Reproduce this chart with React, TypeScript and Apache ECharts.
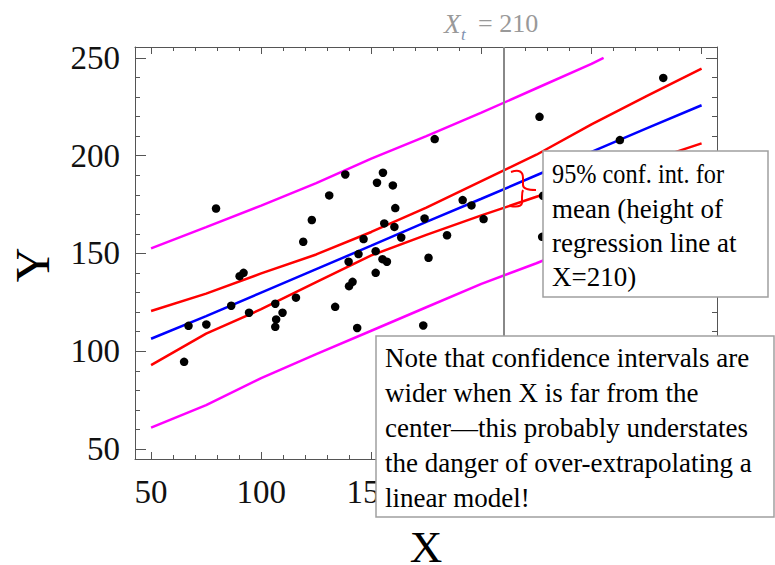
import React, { useEffect, useRef } from "react";
import * as echarts from "echarts";

// ---- data ----
const pointX = [65, 67, 75.1, 79.5, 86.4, 90.2, 92, 94.5, 106.4, 106.8, 106.4, 109.7, 115.8, 119.1, 123, 130.9, 133.6, 138.2, 139.7, 139.9, 141.5, 143.6, 144.2, 146.5, 152, 152, 152.6, 155.1, 155.3, 155.9, 157.1, 159.8, 160.5, 160.9, 163.6, 173.6, 174.2, 176, 178.8, 184.4, 191.5, 195.5, 201, 226.4, 227.6, 228, 262.9, 282.6];
const pointY = [94.6, 113, 113.7, 173, 123.3, 138.4, 140.1, 119.7, 124.3, 116.3, 112.5, 119.7, 127.4, 156, 167.1, 179.7, 122.7, 190.4, 145.8, 133.3, 135.5, 111.9, 149.7, 157.4, 140.1, 151.2, 186.2, 147.1, 191.3, 165.4, 145.8, 184.8, 163.6, 173.2, 158.2, 113.2, 167.9, 147.8, 208.5, 159.3, 177.3, 174.6, 167.6, 219.9, 158.5, 179.5, 208, 239.8];

const curveX = [50, 75, 100, 125, 150, 175, 200, 225, 250, 275, 300];
const fitY = [106.4, 118, 130, 142, 154, 166.2, 178, 190, 202, 214, 225.8];
const confUpperY = [120.6, 129.5, 139.8, 149.5, 161, 173.5, 187, 200.5, 216, 230.5, 244.6];
const confLowerY = [92.9, 109, 121.5, 135.4, 149, 159.5, 169.5, 179, 188, 197, 206.3];
const predUpperX = [50, 75, 100, 125, 150, 175, 200, 225, 250, 255.5];
const predUpperY = [152.6, 163.5, 174.5, 186, 198.5, 210, 222, 234.5, 247, 250];
const predLowerY = [60.9, 72.5, 86.3, 98.5, 110.5, 122.5, 134.5, 145, 156.5, 168, 179.5];

const XT = 210;
const X_MIN = 42.7;
const X_MAX = 307;
const Y_MIN = 44.9;
const Y_MAX = 255.6;
const xMajor = [50, 100, 150, 200, 250, 300];
const xLabels = [50, 100, 150]; // 200, 250, 300 sit under the note box
const xMinor = [50, 60, 70, 80, 90, 100, 110, 120, 130, 140, 150, 160, 170, 180, 190, 200, 210, 220, 230, 240, 250, 260, 270, 280, 290, 300];
const yMajor = [50, 100, 150, 200, 250];
const yMinor = [50, 60, 70, 80, 90, 100, 110, 120, 130, 140, 150, 160, 170, 180, 190, 200, 210, 220, 230, 240, 250];

const box1Lines = ["95% conf. int. for", "mean (height of", "regression line at", "X=210)"];
const box2Lines = [
  "Note that confidence intervals are",
  "wider when X is far from the",
  "center\u2014this probably understates",
  "the danger of over-extrapolating a",
  "linear model!",
];

const SERIF = "'Liberation Serif', 'Times New Roman', serif";
const FRAME = "#555";

function pairs(xs: number[], ys: number[]) {
  return xs.map((x, i) => [x, ys[i]]);
}

echarts.graphic.registerShape(
  "brace",
  echarts.graphic.extendPath(
    "M511,172 Q523,168 523,178 L523,185 Q523,190 536,190 M523,190 Q522,192 522,197 L522,203 Q521,208 510,206",
    {}
  )
);

function xAxisDef(position: string, ticks: number[], len: number, labels: boolean, line: boolean) {
  return {
    type: "value",
    min: X_MIN,
    max: X_MAX,
    position,
    axisLine: { show: line, onZero: false, lineStyle: { color: FRAME, width: 1 } },
    axisTick: { show: true, inside: true, length: len, customValues: ticks, lineStyle: { color: FRAME, width: 1 } },
    axisLabel: labels
      ? { show: true, customValues: xLabels, margin: 16, fontSize: 33, color: "#111", fontFamily: SERIF }
      : { show: false },
    splitLine: { show: false },
  };
}

function yAxisDef(position: string, ticks: number[], len: number, labels: boolean, line: boolean) {
  return {
    type: "value",
    min: Y_MIN,
    max: Y_MAX,
    position,
    axisLine: { show: line, onZero: false, lineStyle: { color: FRAME, width: 1 } },
    axisTick: { show: true, inside: true, length: len, customValues: ticks, lineStyle: { color: FRAME, width: 1 } },
    axisLabel: labels
      ? { show: true, customValues: yMajor, margin: 15, fontSize: 33, color: "#111", fontFamily: SERIF }
      : { show: false },
    splitLine: { show: false },
  };
}

export default function App() {
  const ref = useRef<HTMLDivElement>(null);

  useEffect(() => {
    if (!ref.current) return;
    const chart = echarts.init(ref.current, null, { renderer: "svg" });

    const lineSeries = (data: number[][], color: string, extra: any = {}) => ({
      type: "line",
      data,
      showSymbol: false,
      symbol: "none",
      smooth: false,
      silent: true,
      xAxisIndex: 0,
      yAxisIndex: 0,
      lineStyle: { color, width: 2.5 },
      z: 3,
      ...extra,
    });

    const texts: any[] = [];
    box1Lines.forEach((t, i) => {
      texts.push({
        type: "text",
        z: 101,
        x: 552,
        y: 174.5 + i * 34,
        scaleX: i === 0 ? 0.9 : 1,
        style: { text: t, fontSize: 27, fontFamily: SERIF, fill: "#000", align: "left", verticalAlign: "middle" },
      });
    });
    box2Lines.forEach((t, i) => {
      texts.push({
        type: "text",
        z: 101,
        x: 385,
        y: 358.3 + i * 35,
        style: { text: t, fontSize: 27, fontFamily: SERIF, fill: "#000", align: "left", verticalAlign: "middle" },
      });
    });

    chart.setOption({
      animation: false,
      grid: { left: 135, top: 47, width: 582, height: 412, outerBoundsMode: "none", containLabel: false },
      xAxis: [
        xAxisDef("bottom", xMajor, 7, true, true),
        xAxisDef("bottom", xMinor, 4, false, false),
        xAxisDef("top", xMajor, 7, false, true),
        xAxisDef("top", xMinor, 4, false, false),
      ],
      yAxis: [
        yAxisDef("left", yMajor, 11, true, true),
        yAxisDef("left", yMinor, 5, false, false),
        yAxisDef("right", yMajor, 11, false, true),
        yAxisDef("right", yMinor, 5, false, false),
      ],
      series: [
        lineSeries(pairs(predUpperX, predUpperY), "#ff00ff"),
        lineSeries(pairs(curveX, predLowerY), "#ff00ff"),
        lineSeries(pairs(curveX, confUpperY), "#ff0000"),
        lineSeries(pairs(curveX, confLowerY), "#ff0000"),
        lineSeries(pairs(curveX, fitY), "#0000ff", {
          markLine: {
            silent: true,
            symbol: "none",
            label: { show: false },
            lineStyle: { color: "#888", width: 2, type: "solid" },
            data: [{ xAxis: XT }],
          },
        }),
        {
          type: "scatter",
          data: pairs(pointX, pointY),
          symbol: "circle",
          symbolSize: 8.5,
          itemStyle: { color: "#000", opacity: 1 },
          silent: true,
          z: 5,
        },
      ],
      graphic: [
        {
          type: "rect",
          z: 100,
          shape: { x: 543, y: 151, width: 225, height: 146 },
          style: { fill: "#fff", stroke: "#a0a0a0", lineWidth: 1.5 },
        },
        {
          type: "rect",
          z: 100,
          shape: { x: 376, y: 336, width: 398, height: 181 },
          style: { fill: "#fff", stroke: "#a0a0a0", lineWidth: 1.5 },
        },
        ...texts,
        {
          type: "brace",
          z: 102,
          x: 0,
          y: 0,
          style: { fill: "none", stroke: "#ff0000", lineWidth: 2 },
        },
        {
          type: "text",
          z: 101,
          x: 444,
          y: 23.7,
          style: { text: "X", fontSize: 27, fontStyle: "italic", fontFamily: SERIF, fill: "#999", align: "left", verticalAlign: "middle" },
        },
        {
          type: "text",
          z: 101,
          x: 461,
          y: 34,
          style: { text: "t", fontSize: 17, fontStyle: "italic", fontFamily: SERIF, fill: "#8090b0", align: "left", verticalAlign: "middle" },
        },
        {
          type: "text",
          z: 101,
          x: 478,
          y: 23.7,
          style: { text: "= 210", fontSize: 26, fontFamily: SERIF, fill: "#999", align: "left", verticalAlign: "middle" },
        },
        {
          type: "text",
          z: 101,
          x: 426,
          y: 547,
          style: { text: "X", fontSize: 45, fontFamily: SERIF, fill: "#000", align: "center", verticalAlign: "middle" },
        },
        {
          type: "text",
          z: 101,
          x: 32,
          y: 265,
          rotation: Math.PI / 2,
          style: { text: "Y", fontSize: 48, fontFamily: SERIF, fill: "#000", align: "center", verticalAlign: "middle" },
        },
      ],
    });

    return () => chart.dispose();
  }, []);

  return (
    <div
      ref={ref}
      style={{ position: "fixed", left: 0, top: 0, width: 775, height: 565, background: "#fff" }}
    />
  );
}
